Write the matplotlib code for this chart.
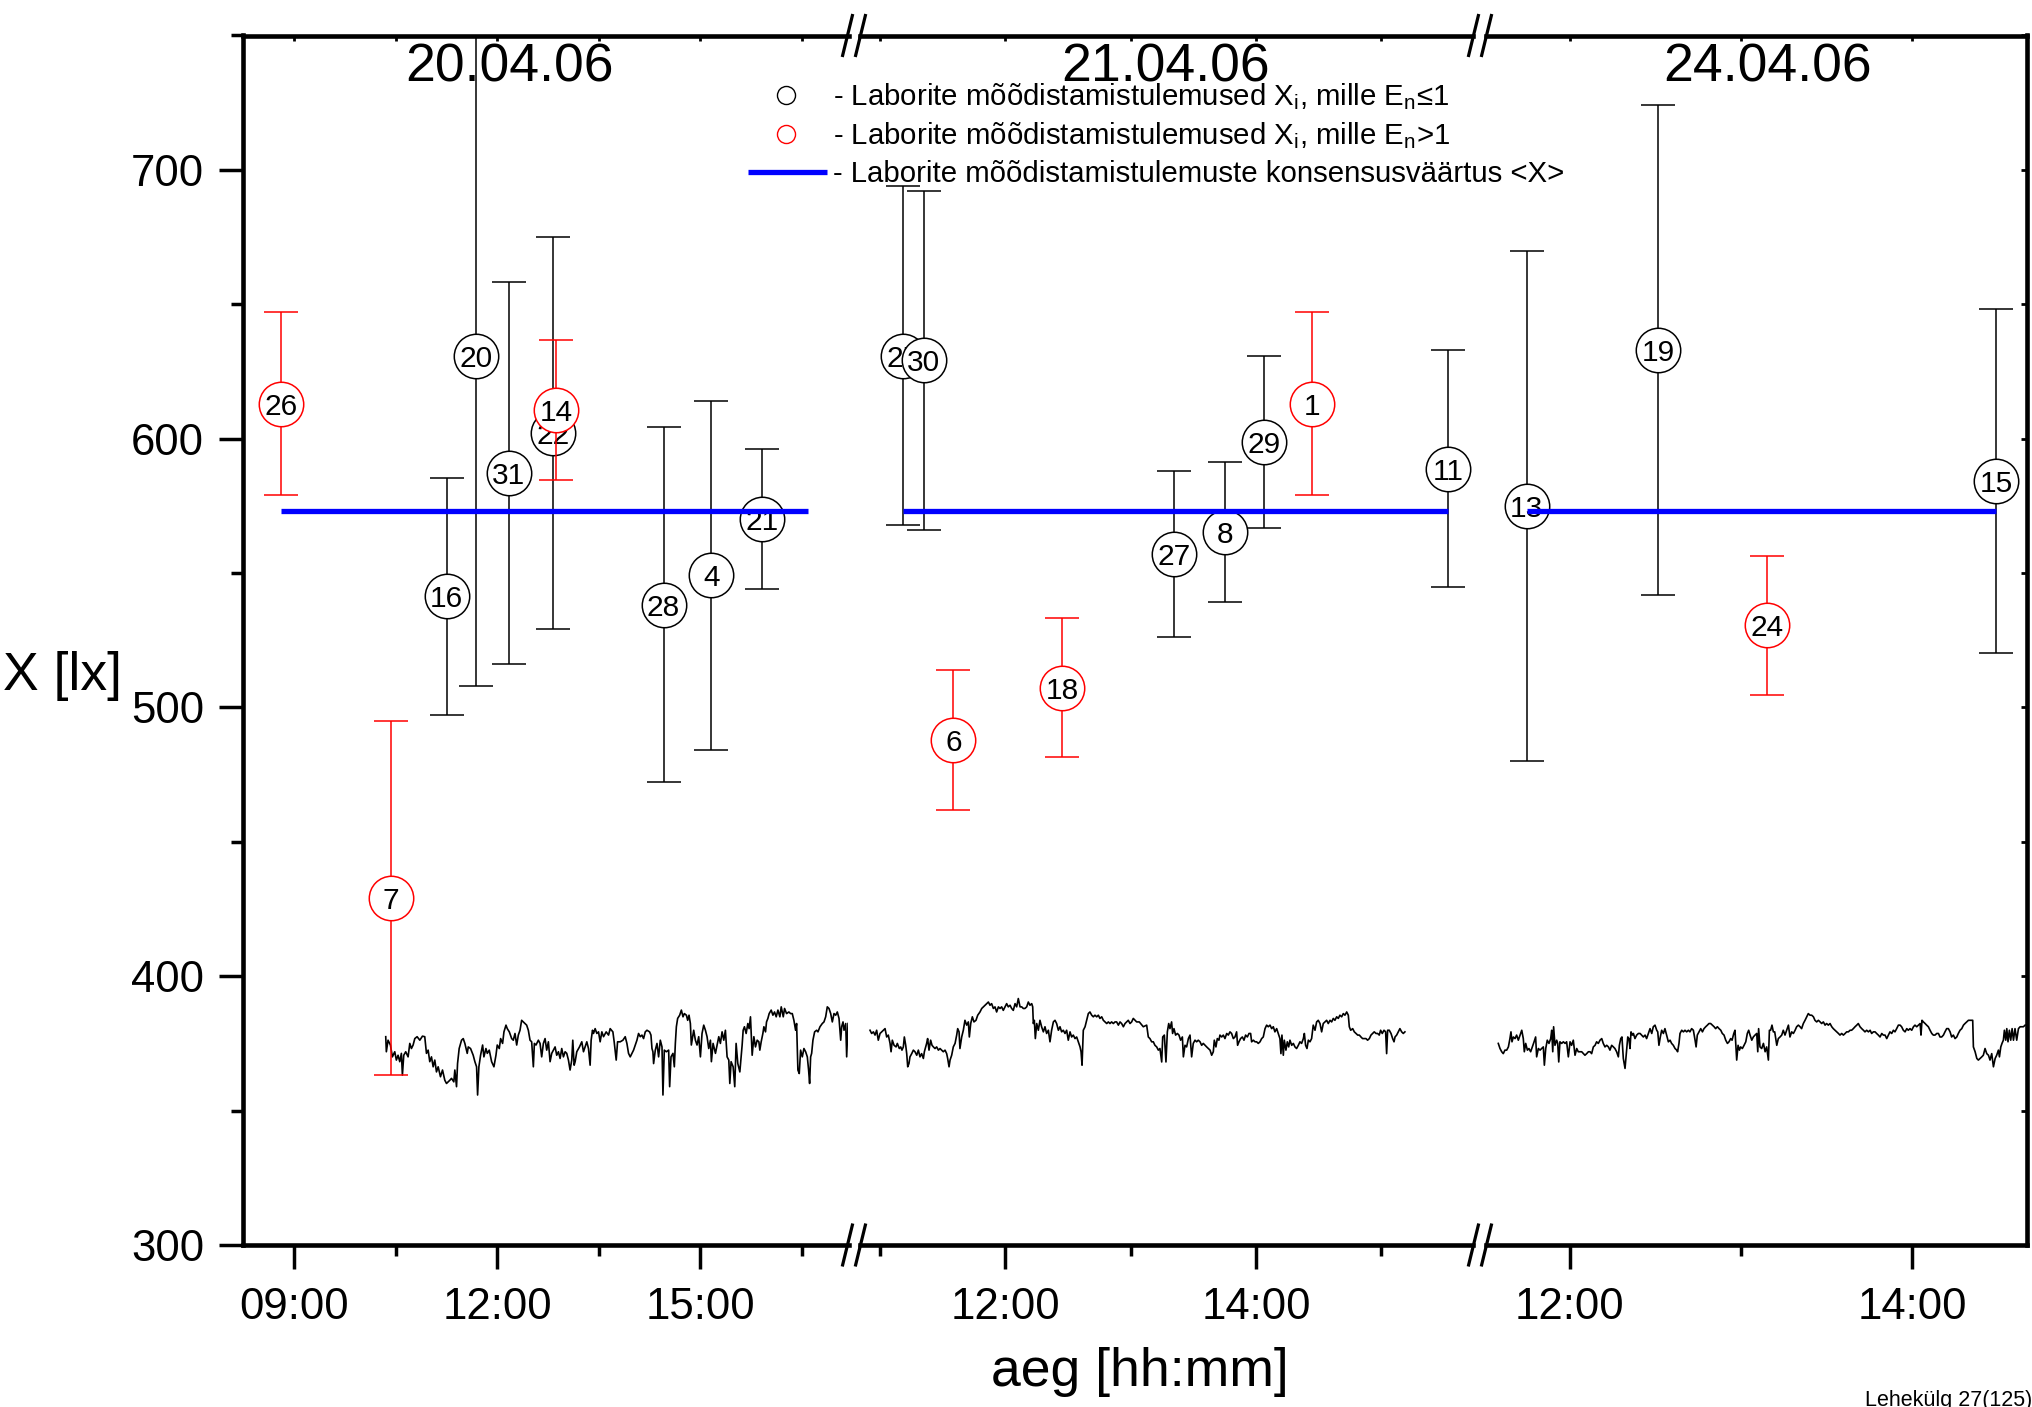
import matplotlib
matplotlib.use("Agg")
import matplotlib.pyplot as plt
from matplotlib.ticker import FixedLocator, FuncFormatter, NullFormatter

plt.rcParams['font.family'] = ['Liberation Sans', 'DejaVu Sans']
plt.rcParams['mathtext.fontset'] = 'custom'
plt.rcParams['mathtext.rm'] = 'Liberation Sans'
plt.rcParams['mathtext.it'] = 'Liberation Sans:italic'

W, H = 2033, 1407

# ---------------------------------------------------------------- data
day_titles = ["20.04.06", "21.04.06", "24.04.06"]

# consensus value <X> and the time span it is drawn over on each day [h]
consensus = 573.2
cons_start = [8.813, 11.181, 11.749]
cons_end = [16.587, 15.536, 14.489]

# laboratory results: id, time [h], result X [lx], uncertainty U [lx], En > 1
day1_lab = [26, 7, 16, 20, 31, 22, 14, 28, 4, 21]
day1_time = [8.813, 10.430, 11.252, 11.685, 12.168, 12.820, 12.872, 14.455, 15.160, 15.905]
day1_val = [613.0, 429.1, 541.3, 630.9, 587.3, 602.2, 610.7, 538.3, 549.2, 570.2]
day1_unc = [34, 66, 44, 123, 71, 73, 26, 66, 65, 26]
day1_out = [1, 1, 0, 0, 0, 0, 1, 0, 0, 0]

day2_lab = [25, 30, 6, 18, 27, 8, 29, 1, 11]
day2_time = [11.181, 11.349, 11.585, 12.452, 13.349, 13.754, 14.067, 14.452, 15.536]
day2_val = [630.9, 629.2, 488.0, 507.4, 557.1, 565.3, 598.9, 613.0, 588.9]
day2_unc = [63, 63, 26, 26, 31, 26, 32, 34, 44]
day2_out = [0, 0, 1, 1, 0, 0, 0, 1, 0]

day3_lab = [13, 19, 24, 15]
day3_time = [11.749, 12.516, 13.150, 14.489]
day3_val = [575.0, 633.0, 530.5, 584.4]
day3_unc = [95, 91, 26, 64]
day3_out = [0, 0, 1, 0]

# reference illuminance logger record: (time [h], X [lx])
day1_log = [
    (10.354, 377.5), (10.363, 371.9), (10.388, 376.2), (10.423, 374.4), (10.452, 370.0),
    (10.487, 371.9), (10.511, 368.8), (10.536, 370.6), (10.561, 368.2), (10.585, 371.3),
    (10.600, 363.2), (10.620, 370.6), (10.649, 371.9), (10.684, 370.0), (10.709, 375.0),
    (10.733, 373.1), (10.758, 374.4), (10.783, 376.8), (10.817, 377.5), (10.857, 376.2),
    (10.896, 377.7), (10.930, 377.5), (10.955, 371.3), (10.980, 372.5), (11.004, 368.2),
    (11.029, 370.0), (11.054, 366.3), (11.078, 368.8), (11.103, 364.4), (11.128, 366.3),
    (11.162, 362.6), (11.192, 365.1), (11.226, 361.3), (11.251, 360.1), (11.300, 361.3),
    (11.325, 362.0), (11.359, 360.7), (11.374, 365.1), (11.399, 358.9), (11.414, 367.5),
    (11.438, 373.1), (11.473, 376.2), (11.498, 376.8), (11.522, 375.0), (11.557, 371.3),
    (11.572, 373.7), (11.606, 373.1), (11.645, 370.6), (11.670, 368.2), (11.695, 366.3),
    (11.710, 355.8), (11.729, 366.3), (11.754, 370.6), (11.784, 374.4), (11.803, 370.0),
    (11.833, 373.1), (11.853, 371.3), (11.882, 372.5), (11.917, 368.2), (11.951, 366.3),
    (11.981, 370.6), (12.000, 374.4), (12.030, 373.1), (12.050, 376.8), (12.079, 375.0),
    (12.099, 379.3), (12.129, 381.8), (12.148, 380.5), (12.178, 379.3), (12.213, 376.8),
    (12.237, 376.2), (12.262, 378.7), (12.287, 374.4), (12.311, 378.1), (12.336, 379.9),
    (12.360, 383.6), (12.385, 383.0), (12.410, 382.4), (12.434, 381.8), (12.459, 379.9),
    (12.484, 376.2), (12.508, 375.6), (12.533, 366.3), (12.548, 375.0), (12.572, 374.4),
    (12.607, 376.2), (12.632, 375.0), (12.656, 370.0), (12.681, 375.0), (12.706, 376.8),
    (12.730, 372.5), (12.755, 375.6), (12.780, 368.2), (12.804, 371.3), (12.829, 372.5),
    (12.854, 373.7), (12.878, 370.6), (12.903, 371.9), (12.928, 369.4), (12.952, 373.1),
    (12.977, 370.0), (13.002, 371.9), (13.026, 371.3), (13.051, 368.8), (13.075, 365.1),
    (13.100, 368.8), (13.115, 376.2), (13.135, 366.9), (13.150, 368.2), (13.174, 371.9),
    (13.214, 373.7), (13.248, 375.6), (13.273, 371.9), (13.297, 373.7), (13.322, 375.6),
    (13.347, 373.1), (13.371, 366.9), (13.386, 376.2), (13.406, 379.9), (13.421, 378.7),
    (13.445, 380.5), (13.470, 378.7), (13.495, 379.3), (13.519, 375.6), (13.544, 379.3),
    (13.569, 377.5), (13.608, 379.3), (13.643, 378.1), (13.667, 380.5), (13.707, 379.3),
    (13.726, 375.6), (13.756, 368.8), (13.776, 375.6), (13.815, 375.6), (13.855, 376.2),
    (13.889, 377.5), (13.914, 375.0), (13.938, 371.3), (13.963, 370.0), (13.988, 371.3),
    (14.012, 372.5), (14.037, 374.4), (14.062, 376.2), (14.086, 378.7), (14.111, 377.5),
    (14.136, 378.1), (14.160, 376.8), (14.185, 379.3), (14.210, 379.9), (14.249, 379.3),
    (14.269, 378.1), (14.284, 373.1), (14.298, 371.9), (14.308, 367.5), (14.333, 372.5),
    (14.358, 375.0), (14.382, 370.0), (14.407, 376.2), (14.432, 373.7), (14.446, 355.8),
    (14.466, 372.5), (14.496, 371.9), (14.530, 372.5), (14.545, 358.9), (14.565, 370.0),
    (14.594, 371.3), (14.614, 366.3), (14.629, 375.0), (14.644, 381.2), (14.663, 384.3),
    (14.693, 385.5), (14.718, 387.4), (14.742, 384.9), (14.762, 386.1), (14.792, 385.5),
    (14.811, 383.6), (14.831, 385.5), (14.851, 382.4), (14.865, 374.4), (14.885, 377.5),
    (14.900, 379.9), (14.925, 376.2), (14.949, 374.4), (14.974, 377.5), (14.999, 370.0),
    (15.023, 378.7), (15.048, 381.8), (15.073, 379.9), (15.097, 377.5), (15.122, 373.1),
    (15.147, 376.2), (15.161, 368.2), (15.186, 375.0), (15.221, 371.3), (15.245, 374.4),
    (15.270, 377.5), (15.294, 375.0), (15.319, 379.3), (15.344, 376.2), (15.368, 379.9),
    (15.393, 370.0), (15.418, 368.8), (15.433, 360.1), (15.452, 368.2), (15.482, 366.3),
    (15.506, 358.9), (15.526, 375.0), (15.551, 367.5), (15.581, 364.4), (15.600, 370.0),
    (15.615, 374.4), (15.630, 379.9), (15.649, 381.2), (15.674, 378.7), (15.699, 382.4),
    (15.718, 380.5), (15.738, 384.9), (15.763, 370.6), (15.788, 377.5), (15.812, 373.7),
    (15.837, 376.2), (15.862, 375.6), (15.876, 372.5), (15.896, 375.6), (15.921, 378.7),
    (15.936, 381.2), (15.960, 379.3), (15.975, 383.0), (15.995, 384.3), (16.014, 386.1),
    (16.044, 387.4), (16.069, 385.5), (16.093, 386.7), (16.118, 384.9), (16.143, 387.4),
    (16.172, 384.9), (16.192, 388.6), (16.207, 386.7), (16.222, 384.9), (16.241, 388.0),
    (16.271, 386.1), (16.305, 386.7), (16.330, 386.1), (16.355, 386.1), (16.379, 383.6),
    (16.404, 379.9), (16.419, 382.4), (16.438, 365.1), (16.458, 363.8), (16.478, 372.5),
    (16.503, 370.0), (16.527, 373.1), (16.552, 371.9), (16.577, 370.0), (16.596, 365.1),
    (16.611, 360.1), (16.626, 370.0), (16.641, 371.3), (16.660, 376.2), (16.685, 379.3),
    (16.715, 379.9), (16.734, 379.3), (16.764, 381.2), (16.798, 382.4), (16.823, 383.0),
    (16.848, 384.9), (16.872, 388.6), (16.897, 388.0), (16.922, 386.1), (16.946, 383.0),
    (16.971, 386.1), (16.996, 385.5), (17.020, 386.7), (17.045, 384.3), (17.070, 376.2),
    (17.084, 381.2), (17.104, 383.0), (17.119, 379.9), (17.144, 382.4), (17.158, 370.0),
    (17.178, 382.4),
]

day2_log = [
    (10.919, 379.9), (10.932, 378.7), (10.946, 379.3), (10.959, 378.1), (10.972, 379.9),
    (10.985, 376.2), (10.999, 378.7), (11.012, 379.3), (11.025, 379.9), (11.039, 380.5),
    (11.052, 377.4), (11.065, 378.1), (11.079, 375.0), (11.087, 371.9), (11.097, 376.2),
    (11.111, 374.3), (11.127, 373.7), (11.137, 375.0), (11.153, 373.1), (11.164, 373.7),
    (11.174, 372.5), (11.185, 373.7), (11.193, 377.4), (11.204, 374.3), (11.212, 371.2),
    (11.220, 366.3), (11.230, 367.5), (11.238, 370.0), (11.252, 371.2), (11.265, 372.5),
    (11.278, 371.9), (11.292, 370.6), (11.305, 372.5), (11.318, 370.0), (11.331, 371.2),
    (11.345, 369.4), (11.353, 371.9), (11.363, 373.7), (11.371, 375.0), (11.379, 376.8),
    (11.390, 372.5), (11.403, 376.2), (11.414, 374.3), (11.425, 373.7), (11.438, 373.1),
    (11.451, 373.7), (11.465, 372.5), (11.478, 373.1), (11.491, 372.5), (11.504, 371.9),
    (11.518, 372.5), (11.531, 371.2), (11.539, 369.4), (11.550, 366.3), (11.558, 368.8),
    (11.571, 370.6), (11.584, 373.7), (11.598, 375.0), (11.611, 378.1), (11.619, 380.5),
    (11.630, 379.3), (11.637, 373.1), (11.651, 377.4), (11.664, 379.9), (11.677, 383.6),
    (11.691, 381.8), (11.704, 383.0), (11.712, 377.4), (11.723, 382.4), (11.736, 384.9),
    (11.749, 383.0), (11.765, 383.6), (11.779, 385.5), (11.797, 386.7), (11.811, 388.0),
    (11.824, 388.6), (11.837, 389.2), (11.850, 389.8), (11.864, 390.4), (11.877, 389.2),
    (11.890, 389.8), (11.904, 388.0), (11.917, 388.6), (11.930, 386.7), (11.944, 388.6),
    (11.957, 388.0), (11.970, 388.6), (11.983, 387.3), (11.997, 388.6), (12.010, 389.8),
    (12.023, 388.6), (12.037, 389.2), (12.050, 388.0), (12.063, 387.3), (12.077, 389.8),
    (12.090, 388.6), (12.103, 391.7), (12.117, 388.6), (12.130, 388.6), (12.143, 388.0),
    (12.156, 388.0), (12.170, 388.6), (12.183, 390.4), (12.196, 389.2), (12.210, 389.8),
    (12.218, 388.6), (12.223, 382.4), (12.231, 383.6), (12.239, 376.8), (12.250, 382.4),
    (12.263, 379.9), (12.276, 383.6), (12.289, 381.2), (12.303, 379.3), (12.316, 381.2),
    (12.329, 378.7), (12.343, 379.9), (12.356, 375.6), (12.369, 379.9), (12.383, 383.0),
    (12.396, 383.6), (12.409, 382.4), (12.423, 379.9), (12.436, 381.2), (12.449, 379.3),
    (12.462, 379.9), (12.476, 378.7), (12.489, 379.9), (12.502, 376.2), (12.516, 379.3),
    (12.529, 377.4), (12.542, 378.1), (12.556, 376.8), (12.569, 377.4), (12.582, 375.6),
    (12.596, 373.7), (12.604, 371.9), (12.612, 366.9), (12.622, 379.9), (12.636, 381.2),
    (12.649, 383.6), (12.662, 386.1), (12.675, 386.7), (12.689, 385.5), (12.702, 384.9),
    (12.715, 385.5), (12.729, 384.9), (12.742, 385.5), (12.755, 384.3), (12.769, 384.9),
    (12.782, 383.6), (12.795, 383.0), (12.809, 382.4), (12.822, 383.0), (12.835, 382.4),
    (12.848, 383.0), (12.862, 382.4), (12.875, 383.0), (12.888, 383.0), (12.902, 381.8),
    (12.915, 383.0), (12.928, 382.4), (12.942, 381.2), (12.955, 382.4), (12.968, 383.0),
    (12.981, 383.6), (12.995, 382.4), (13.008, 383.0), (13.021, 384.3), (13.035, 383.6),
    (13.048, 383.0), (13.069, 383.0), (13.101, 381.2), (13.128, 381.8), (13.141, 377.4),
    (13.154, 376.8), (13.168, 375.6), (13.181, 375.6), (13.194, 374.3), (13.208, 373.7),
    (13.221, 372.5), (13.234, 373.1), (13.248, 368.1), (13.256, 377.4), (13.269, 378.1),
    (13.282, 368.1), (13.293, 379.3), (13.304, 382.4), (13.314, 380.5), (13.327, 383.0),
    (13.335, 378.7), (13.346, 380.5), (13.359, 378.1), (13.373, 378.7), (13.386, 378.1),
    (13.399, 376.2), (13.413, 377.4), (13.421, 370.0), (13.434, 374.3), (13.447, 373.7),
    (13.461, 376.8), (13.474, 378.1), (13.487, 370.0), (13.500, 375.0), (13.514, 376.2),
    (13.527, 375.6), (13.540, 376.2), (13.554, 375.6), (13.567, 374.3), (13.580, 375.0),
    (13.594, 374.3), (13.607, 373.7), (13.620, 373.1), (13.634, 372.5), (13.647, 370.6),
    (13.660, 371.9), (13.668, 376.2), (13.681, 373.7), (13.692, 376.8), (13.705, 376.2),
    (13.713, 378.1), (13.727, 377.4), (13.740, 378.1), (13.753, 376.8), (13.767, 378.7),
    (13.780, 378.1), (13.793, 379.3), (13.806, 378.7), (13.820, 376.8), (13.833, 377.4),
    (13.846, 379.3), (13.854, 374.3), (13.865, 375.6), (13.878, 376.8), (13.892, 377.4),
    (13.905, 376.2), (13.918, 378.1), (13.932, 377.4), (13.945, 378.7), (13.958, 378.7),
    (13.966, 375.6), (13.980, 376.2), (13.993, 375.6), (14.006, 375.6), (14.019, 375.0),
    (14.033, 375.6), (14.046, 376.8), (14.059, 377.4), (14.073, 380.5), (14.086, 381.8),
    (14.099, 381.2), (14.113, 381.8), (14.126, 380.5), (14.139, 381.2), (14.152, 379.3),
    (14.166, 380.5), (14.179, 378.7), (14.192, 376.8), (14.200, 371.2), (14.208, 378.1),
    (14.219, 370.6), (14.227, 376.2), (14.240, 372.5), (14.251, 375.6), (14.262, 373.7),
    (14.272, 376.2), (14.286, 374.3), (14.299, 375.0), (14.312, 373.7), (14.325, 373.1),
    (14.339, 374.3), (14.352, 375.6), (14.365, 375.0), (14.379, 376.8), (14.387, 378.7),
    (14.397, 374.3), (14.408, 373.1), (14.419, 376.2), (14.432, 375.6), (14.445, 376.8),
    (14.458, 381.8), (14.472, 379.9), (14.485, 383.0), (14.498, 383.6), (14.512, 382.4),
    (14.525, 379.3), (14.538, 382.4), (14.552, 383.0), (14.565, 383.6), (14.578, 382.4),
    (14.592, 383.6), (14.605, 383.0), (14.618, 384.3), (14.631, 383.6), (14.645, 384.9),
    (14.658, 384.3), (14.671, 385.5), (14.685, 384.9), (14.698, 386.1), (14.711, 385.5),
    (14.725, 386.7), (14.738, 385.5), (14.746, 381.2), (14.757, 379.9), (14.773, 380.5),
    (14.786, 379.3), (14.799, 378.7), (14.813, 378.1), (14.826, 378.1), (14.839, 377.4),
    (14.852, 376.8), (14.866, 376.8), (14.879, 376.8), (14.892, 376.2), (14.906, 376.8),
    (14.919, 378.1), (14.932, 378.7), (14.945, 379.3), (14.959, 378.7), (14.972, 378.7),
    (14.985, 378.1), (14.996, 379.9), (15.009, 378.7), (15.023, 379.9), (15.036, 379.3),
    (15.044, 371.2), (15.052, 379.9), (15.065, 379.9), (15.079, 378.7), (15.092, 376.8),
    (15.103, 375.6), (15.111, 377.4), (15.124, 378.1), (15.137, 379.3), (15.150, 380.5),
    (15.164, 379.3), (15.177, 378.7), (15.190, 379.3),
]

day3_log = [
    (11.583, 375.0), (11.593, 373.1), (11.603, 371.9), (11.612, 371.2), (11.622, 372.5),
    (11.632, 372.5), (11.642, 373.7), (11.651, 376.8), (11.657, 379.3), (11.663, 375.6),
    (11.671, 377.4), (11.681, 376.8), (11.690, 378.1), (11.700, 376.2), (11.710, 378.1),
    (11.720, 379.9), (11.729, 376.8), (11.735, 371.9), (11.743, 375.0), (11.753, 372.5),
    (11.762, 373.1), (11.772, 371.9), (11.782, 373.7), (11.792, 375.6), (11.801, 377.4),
    (11.807, 370.0), (11.817, 373.1), (11.827, 372.5), (11.836, 373.1), (11.846, 373.7),
    (11.852, 366.9), (11.860, 373.1), (11.869, 376.2), (11.879, 375.0), (11.889, 376.8),
    (11.895, 379.9), (11.901, 371.9), (11.906, 381.2), (11.914, 374.3), (11.924, 376.2),
    (11.930, 375.0), (11.936, 368.1), (11.943, 375.6), (11.953, 375.0), (11.963, 375.6),
    (11.973, 375.0), (11.982, 375.6), (11.992, 370.0), (12.002, 375.6), (12.011, 374.3),
    (12.021, 376.2), (12.031, 370.6), (12.041, 373.1), (12.050, 371.9), (12.060, 371.9),
    (12.070, 371.9), (12.080, 371.2), (12.089, 370.6), (12.099, 371.2), (12.109, 371.9),
    (12.119, 371.9), (12.128, 371.2), (12.138, 373.7), (12.148, 374.3), (12.157, 375.6),
    (12.167, 375.0), (12.177, 376.2), (12.187, 376.8), (12.196, 375.0), (12.206, 373.7),
    (12.216, 374.3), (12.226, 373.7), (12.235, 372.5), (12.245, 374.3), (12.255, 373.7),
    (12.264, 373.1), (12.274, 371.9), (12.284, 370.0), (12.290, 374.3), (12.298, 376.8),
    (12.305, 377.4), (12.313, 369.4), (12.323, 365.7), (12.333, 373.1), (12.339, 377.4),
    (12.346, 376.8), (12.352, 373.1), (12.358, 379.3), (12.366, 378.1), (12.372, 378.7),
    (12.381, 376.8), (12.391, 378.1), (12.401, 378.7), (12.411, 378.7), (12.420, 378.1),
    (12.430, 377.4), (12.440, 378.1), (12.449, 376.8), (12.459, 378.7), (12.469, 380.5),
    (12.479, 378.7), (12.488, 381.2), (12.498, 381.8), (12.508, 379.9), (12.514, 379.3),
    (12.521, 374.3), (12.529, 377.4), (12.537, 379.9), (12.547, 378.7), (12.556, 380.5),
    (12.566, 378.1), (12.576, 375.6), (12.586, 376.2), (12.595, 375.0), (12.605, 374.3),
    (12.615, 373.1), (12.625, 372.5), (12.630, 371.9), (12.638, 375.0), (12.644, 378.7),
    (12.654, 379.9), (12.664, 379.3), (12.673, 379.9), (12.683, 379.3), (12.693, 379.9),
    (12.702, 379.3), (12.712, 380.5), (12.722, 379.9), (12.732, 376.2), (12.738, 373.7),
    (12.745, 378.1), (12.755, 379.3), (12.765, 380.5), (12.775, 379.3), (12.784, 380.5),
    (12.794, 381.2), (12.804, 381.8), (12.813, 382.4), (12.823, 382.4), (12.833, 381.8),
    (12.843, 381.2), (12.852, 380.5), (12.862, 381.2), (12.872, 380.5), (12.882, 379.9),
    (12.891, 378.7), (12.901, 378.1), (12.911, 376.2), (12.921, 375.0), (12.930, 375.6),
    (12.940, 376.8), (12.948, 376.2), (12.958, 378.7), (12.965, 379.9), (12.975, 368.8),
    (12.983, 374.3), (12.991, 372.5), (12.998, 373.7), (13.008, 373.1), (13.018, 374.3),
    (13.028, 375.6), (13.037, 378.7), (13.045, 379.9), (13.053, 378.1), (13.063, 376.2),
    (13.072, 377.4), (13.082, 378.1), (13.092, 378.7), (13.098, 371.9), (13.103, 380.5),
    (13.111, 373.7), (13.121, 373.1), (13.131, 375.0), (13.141, 371.9), (13.150, 373.7),
    (13.160, 368.8), (13.166, 379.9), (13.173, 379.9), (13.181, 381.8), (13.189, 379.3),
    (13.197, 379.3), (13.209, 374.3), (13.218, 376.8), (13.228, 377.4), (13.238, 378.1),
    (13.247, 379.9), (13.257, 378.1), (13.267, 379.9), (13.277, 381.8), (13.286, 377.4),
    (13.296, 379.3), (13.306, 378.7), (13.316, 379.9), (13.325, 381.2), (13.335, 381.8),
    (13.345, 381.2), (13.354, 380.5), (13.364, 382.4), (13.374, 383.6), (13.384, 384.9),
    (13.393, 386.1), (13.403, 385.5), (13.413, 385.5), (13.423, 384.9), (13.432, 383.6),
    (13.442, 383.0), (13.452, 383.6), (13.462, 383.0), (13.471, 382.4), (13.481, 383.0),
    (13.491, 381.8), (13.500, 382.4), (13.510, 381.8), (13.520, 382.4), (13.530, 381.2),
    (13.539, 380.5), (13.549, 379.9), (13.559, 379.3), (13.569, 378.7), (13.578, 378.1),
    (13.588, 378.7), (13.598, 378.1), (13.608, 378.7), (13.617, 379.3), (13.627, 379.3),
    (13.637, 379.9), (13.646, 379.9), (13.656, 380.5), (13.666, 381.2), (13.676, 381.8),
    (13.685, 382.4), (13.695, 381.2), (13.705, 380.5), (13.715, 379.9), (13.724, 379.3),
    (13.734, 379.9), (13.744, 379.3), (13.754, 379.9), (13.763, 378.7), (13.773, 379.3),
    (13.783, 379.3), (13.792, 378.7), (13.802, 378.1), (13.812, 377.4), (13.822, 378.7),
    (13.831, 378.1), (13.841, 378.1), (13.851, 376.8), (13.861, 378.1), (13.870, 379.3),
    (13.880, 378.7), (13.890, 379.9), (13.899, 379.3), (13.909, 380.5), (13.919, 381.8),
    (13.929, 381.8), (13.938, 381.2), (13.948, 379.9), (13.958, 379.3), (13.968, 380.5),
    (13.977, 379.9), (13.987, 380.5), (13.997, 379.9), (14.007, 381.2), (14.016, 381.8),
    (14.026, 381.2), (14.036, 381.8), (14.046, 382.4), (14.051, 378.1), (14.057, 383.6),
    (14.065, 383.0), (14.075, 382.4), (14.084, 381.8), (14.094, 381.2), (14.104, 379.9),
    (14.114, 378.7), (14.123, 378.1), (14.133, 378.1), (14.143, 378.7), (14.153, 378.7),
    (14.162, 377.4), (14.172, 377.4), (14.182, 378.1), (14.191, 379.3), (14.201, 380.5),
    (14.211, 380.5), (14.221, 379.3), (14.230, 377.4), (14.240, 378.1), (14.250, 376.8),
    (14.260, 377.4), (14.269, 378.7), (14.279, 379.9), (14.289, 380.5), (14.299, 381.8),
    (14.308, 382.4), (14.318, 383.0), (14.328, 383.6), (14.337, 383.6), (14.353, 383.6),
    (14.357, 373.7), (14.367, 371.9), (14.377, 369.4), (14.386, 368.8), (14.396, 369.4),
    (14.406, 370.0), (14.415, 370.6), (14.425, 373.1), (14.435, 371.2), (14.445, 370.6),
    (14.454, 368.8), (14.464, 371.2), (14.474, 366.3), (14.484, 369.4), (14.493, 370.6),
    (14.503, 372.5), (14.509, 370.0), (14.517, 373.7), (14.524, 375.0), (14.532, 376.2),
    (14.538, 379.9), (14.546, 376.2), (14.552, 380.5), (14.559, 375.6), (14.567, 379.9),
    (14.575, 376.2), (14.583, 380.5), (14.591, 376.2), (14.600, 380.5), (14.610, 376.2),
    (14.620, 380.5), (14.630, 381.2), (14.639, 381.2), (14.649, 381.2), (14.659, 381.8),
]

# axis layout per day: visible time window [h] and tick positions [h]
day_xlim = [(8.247, 17.185), (10.843, 15.736), (11.513, 14.670)]
day_major = [[9, 12, 15], [12, 14], [12, 14]]
day_minor = [[10.5, 13.5, 16.5], [11, 13, 15], [13]]

y_lim = (300, 750)
y_major = [300, 400, 500, 600, 700]
y_minor = [350, 450, 550, 650, 750]

# ---------------------------------------------------------------- figure
fig = plt.figure(figsize=(W / 100, H / 100), dpi=100)
fig.patch.set_facecolor('white')


def px_box(x0, x1, y_top, y_bot):
    return [x0 / W, 1 - y_bot / H, (x1 - x0) / W, (y_bot - y_top) / H]


TOP, BOT = 35.5, 1245
boxes = [px_box(243, 848.5, TOP, BOT),
         px_box(860.5, 1473.3, TOP, BOT),
         px_box(1486.3, 2027, TOP, BOT)]

labs = [day1_lab, day2_lab, day3_lab]
times = [day1_time, day2_time, day3_time]
vals = [day1_val, day2_val, day3_val]
uncs = [day1_unc, day2_unc, day3_unc]
outs = [day1_out, day2_out, day3_out]
logs = [day1_log, day2_log, day3_log]


def hhmm(v, pos=None):
    h = int(v)
    m = int(round((v - h) * 60))
    return f"{h:02d}:{m:02d}"


SPINE_W = 3.3
for k in range(3):
    ax = fig.add_axes(boxes[k])
    ax.set_xlim(*day_xlim[k])
    ax.set_ylim(*y_lim)
    ax.patch.set_alpha(0)

    # logger record
    lt = [p[0] for p in logs[k]]
    lv = [p[1] for p in logs[k]]
    ax.plot(lt, lv, color='black', lw=1.2, zorder=2)

    # laboratory results with uncertainty bars and id labels
    for i, (lab, t, v, u, o) in enumerate(zip(labs[k], times[k], vals[k], uncs[k], outs[k])):
        col = '#FF0000' if o else 'black'
        z = 3 + i * 0.1
        ax.errorbar(t, v, yerr=u, fmt='none', ecolor=col, elinewidth=1.1,
                    capsize=12.5, capthick=1.1, zorder=z)
        ax.plot(t, v, 'o', ms=32, mfc='white', mec=col, mew=1.1, zorder=z + 0.03)
        ax.text(t, v, str(lab), ha='center', va='center_baseline', fontsize=21.5,
                color='black', zorder=z + 0.06)

    # consensus value
    ax.plot([cons_start[k], cons_end[k]], [consensus, consensus], color='#0000FF',
            lw=3.8, solid_capstyle='butt', zorder=20)

    # spines
    for s in ax.spines.values():
        s.set_linewidth(SPINE_W)
        s.set_capstyle('projecting')
    ax.spines['left'].set_visible(k == 0)
    ax.spines['right'].set_visible(k == 2)

    # x ticks
    ax.xaxis.set_major_locator(FixedLocator(day_major[k]))
    ax.xaxis.set_minor_locator(FixedLocator(day_minor[k]))
    ax.xaxis.set_major_formatter(FuncFormatter(hhmm))
    ax.xaxis.set_minor_formatter(NullFormatter())
    ax.tick_params(axis='x', which='major', direction='out', length=17, width=2.5,
                   labelsize=31.5, pad=13)
    ax.tick_params(axis='x', which='minor', direction='out', length=8, width=2.5)

    top = ax.secondary_xaxis('top')
    top.set_xticks(day_major[k] + day_minor[k])
    top.tick_params(axis='x', which='major', direction='in', length=4, width=2,
                    labeltop=False)
    for s in top.spines.values():
        s.set_visible(False)

    # y ticks
    if k == 0:
        ax.yaxis.set_major_locator(FixedLocator(y_major))
        ax.yaxis.set_minor_locator(FixedLocator(y_minor))
        ax.tick_params(axis='y', which='major', direction='out', length=17, width=2.5,
                       labelsize=31.5, pad=11)
        ax.tick_params(axis='y', which='minor', direction='out', length=9, width=2.5)
    else:
        ax.tick_params(axis='y', which='both', left=False, labelleft=False)
    if k == 2:
        right = ax.secondary_yaxis('right')
        right.set_yticks(y_major + y_minor)
        right.tick_params(axis='y', which='major', direction='in', length=4, width=2,
                          labelright=False)
        for s in right.spines.values():
            s.set_visible(False)

# ---------------------------------------------------------------- annotations (pixel overlay)
ov = fig.add_axes([0, 0, 1, 1])
ov.set_xlim(0, W)
ov.set_ylim(H, 0)
ov.axis('off')
ov.set_zorder(30)
ov.patch.set_alpha(0)

# axis break marks
for cx in (854, 1480):
    for yc in (TOP, BOT):
        for off in (-6.5, 6.5):
            ov.plot([cx + off - 5.25, cx + off + 5.25], [yc + 21.5, yc - 21.5],
                    color='black', lw=2.3, solid_capstyle='butt')

# day titles
for title, cx in zip(day_titles, (510, 1166, 1768)):
    ov.text(cx, 81, title, ha='center', va='baseline', fontsize=38.5)

# axis titles
ov.text(3, 690, "X [lx]", ha='left', va='baseline', fontsize=38.5)
ov.text(1140, 1386, "aeg [hh:mm]", ha='center', va='baseline', fontsize=38.5)
ov.text(1865, 1406, "Lehekülg 27(125)", ha='left', va='baseline', fontsize=15.5)

# legend
legend_rows = [95, 133.5, 172]
legend_text = [
    r"- Laborite mõõdistamistulemused X$_\mathregular{i}$, mille E$_\mathregular{n}$≤1",
    r"- Laborite mõõdistamistulemused X$_\mathregular{i}$, mille E$_\mathregular{n}$>1",
    "- Laborite mõõdistamistulemuste konsensusväärtus <X>",
]
ov.plot(786, legend_rows[0], 'o', ms=13, mfc='white', mec='black', mew=1.0)
ov.plot(786, legend_rows[1], 'o', ms=13, mfc='white', mec='#FF0000', mew=1.0)
ov.plot([748.5, 827], [legend_rows[2]] * 2, color='#0000FF', lw=3.8, solid_capstyle='butt')
for row, txt in zip(legend_rows, legend_text):
    ov.text(833.5, row + 10.5, txt, ha='left', va='baseline', fontsize=21.2)

fig.savefig("out.png", dpi=100, facecolor='white')
